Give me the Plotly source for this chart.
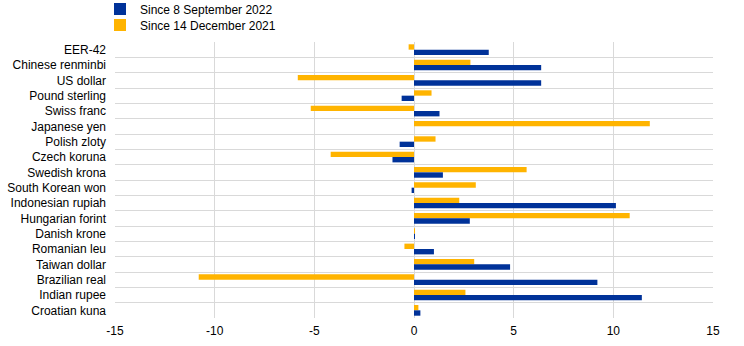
import plotly.graph_objects as go

categories = ["EER-42", "Chinese renminbi", "US dollar", "Pound sterling", "Swiss franc",
              "Japanese yen", "Polish zloty", "Czech koruna", "Swedish krona",
              "South Korean won", "Indonesian rupiah", "Hungarian forint", "Danish krone",
              "Romanian leu", "Taiwan dollar", "Brazilian real", "Indian rupee", "Croatian kuna"]
since_sep_2022 = [3.75, 6.38, 6.38, -0.62, 1.28, 0.0, -0.72, -1.08, 1.45,
                  -0.12, 10.13, 2.8, 0.04, 1.0, 4.82, 9.2, 11.43, 0.32]
since_dec_2021 = [-0.27, 2.83, -5.83, 0.88, -5.18, 11.83, 1.08, -4.18, 5.65,
                  3.1, 2.27, 10.82, 0.02, -0.48, 3.02, -10.8, 2.58, 0.22]
x_ticks = [-15, -10, -5, 0, 5, 10, 15]

ypos = list(range(len(categories)))
BLUE = "#003299"
ORANGE = "#FFB400"
GRID = "#d9d9d9"

fig = go.Figure()
fig.add_trace(go.Bar(y=ypos, x=since_dec_2021, orientation="h", name="Since 14 December 2021",
                     marker=dict(color=ORANGE, line=dict(width=0)), legend="legend2"))
fig.add_trace(go.Bar(y=ypos, x=since_sep_2022, orientation="h", name="Since 8 September 2022",
                     marker=dict(color=BLUE, line=dict(width=0)), legend="legend"))

leg_common = dict(orientation="v", xref="container", yref="container", xanchor="left",
                  yanchor="middle", font=dict(size=12), bgcolor="rgba(0,0,0,0)", borderwidth=0)

fig.update_layout(
    width=744, height=346,
    margin=dict(l=115, r=31, t=42, b=28, autoexpand=False),
    paper_bgcolor="white", plot_bgcolor="white",
    barmode="group", bargap=0.3, bargroupgap=0.0,
    font=dict(family="Liberation Sans, Arial, sans-serif", size=12, color="#000000"),
    legend=dict(x=100 / 744, y=1 - 9 / 346, **leg_common),
    legend2=dict(x=100 / 744, y=1 - 25 / 346, **leg_common),
    showlegend=True,
)
fig.update_xaxes(range=[-15, 15], tickvals=x_ticks, ticktext=[str(v) for v in x_ticks],
                 showgrid=True, gridcolor=GRID, gridwidth=1, zeroline=False,
                 showline=False, ticks="", tickfont=dict(size=12), ticklabelstandoff=4)
fig.update_yaxes(range=[len(categories) - 0.5, -0.5], tickvals=ypos, ticktext=categories,
                 showgrid=False, zeroline=False, showline=False, ticks="",
                 tickfont=dict(size=12), ticklabelstandoff=8,
                 minor=dict(tick0=0.5, dtick=1, showgrid=True, gridcolor=GRID, gridwidth=1, ticks=""))

fig.write_html("out.html")
